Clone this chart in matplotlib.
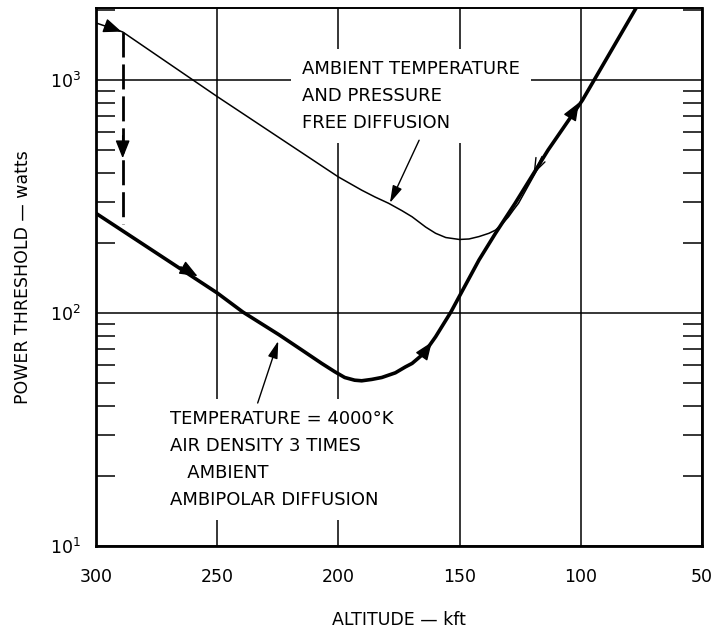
import numpy as np
import matplotlib
matplotlib.use("Agg")
import matplotlib.pyplot as plt
from matplotlib.ticker import FixedLocator, LogLocator, NullFormatter, FuncFormatter

plt.rcParams['font.family'] = ['DejaVu Sans']
plt.rcParams['lines.scale_dashes'] = False

# Ambient temperature and pressure, free diffusion: altitude (kft) vs threshold power (W)
ambient_alt = [300, 289, 250, 200, 190.4, 184.9, 179.3, 173.75, 169.6, 164.0,
               159.9, 155.7, 150.1, 146.1, 142.0, 137.9, 135.2, 132.5, 129.8,
               127.8, 125.7, 113.5, 99.3, 76.9]
ambient_power = [1760, 1610, 850, 384, 337, 315, 296, 275, 259, 234,
                 220, 211, 207, 208, 213, 220, 227, 241, 259,
                 277, 296, 501, 821, 2065]

# 4000 K, air density 3x ambient, ambipolar diffusion
hot_alt = [300, 250, 239.4, 224.5, 215.0, 206.9, 201.5, 197.4, 193.3, 190.4,
           186.25, 182.1, 176.5, 172.4, 169.6, 164.75, 159.9, 153.6, 150.1,
           142.0, 135.2, 127.1, 113.5, 99.3, 76.9]
hot_power = [268, 122, 101, 80.7, 69.3, 60.8, 56.0, 52.9, 51.5, 51.2,
             51.9, 52.9, 55.4, 58.7, 60.8, 67.1, 79.1, 101, 118,
             169, 220, 296, 501, 821, 2065]

# Vertical transition between the two curves near 290 kft
jump_alt = 289.0
jump_top = 1610
jump_bottom = 240
jump_arrow_tip = 462

# Direction arrows along the curves: (tip, tail)
hot_arrows = [((258.1, 144), (265.0, 158)),
              ((161.5, 75), (165.5, 65.5)),
              ((100.8, 800), (106.0, 648))]
ambient_arrow = ((289.5, 1615), (296.0, 1710))

alt_ticks = [300, 250, 200, 150, 100, 50]
power_decades = [10, 100, 1000]

upper_label = "AMBIENT TEMPERATURE\nAND PRESSURE\nFREE DIFFUSION"
lower_label = "TEMPERATURE = 4000°K\nAIR DENSITY 3 TIMES\n   AMBIENT\nAMBIPOLAR DIFFUSION"

fig = plt.figure(figsize=(7.16, 6.31), dpi=100)
ax = fig.add_axes([96 / 716, 1 - 546 / 631, 606 / 716, 538 / 631])
ax.set_yscale('log')
ax.set_xlim(300, 50)
ax.set_ylim(10, 2040)

ax.plot(ambient_alt, ambient_power, color='black', lw=1.1, zorder=3,
        solid_joinstyle='round')
ax.plot(hot_alt, hot_power, color='black', lw=2.6, zorder=3,
        solid_joinstyle='round', solid_capstyle='butt')

ax.plot([jump_alt, jump_alt], [jump_top, jump_bottom], color='black', lw=2.0,
        linestyle=(0, (18, 5)), zorder=3)

head = dict(arrowstyle='-|>,head_length=0.55,head_width=0.22', color='black',
            lw=1.0, shrinkA=0, shrinkB=0, mutation_scale=20)
for tip, tail in hot_arrows:
    ax.annotate('', xy=tip, xytext=tail, arrowprops=head, zorder=4)
ax.annotate('', xy=ambient_arrow[0], xytext=ambient_arrow[1], arrowprops=head, zorder=4)
ax.annotate('', xy=(jump_alt, jump_arrow_tip), xytext=(jump_alt, jump_arrow_tip * 1.25),
            arrowprops=head, zorder=4)
# small barb on the thin curve where it runs along the heavy one
ax.annotate('', xy=(119.5, 395), xytext=(116.0, 470),
            arrowprops=dict(arrowstyle='->,head_length=0.5,head_width=0.18', color='black',
                            lw=1.0, shrinkA=0, shrinkB=0, mutation_scale=20), zorder=4)

# Curve labels with white backing that breaks the grid
txt_kw = dict(fontsize=13, va='top', ha='left', linespacing=1.65, zorder=2,
              bbox=dict(facecolor='white', edgecolor='none', pad=8))
ax.text(215.0, 1220, upper_label, **txt_kw)
ax.text(269.5, 38.4, lower_label, **txt_kw)

pointer = dict(arrowstyle='-|>,head_length=0.7,head_width=0.2', color='black',
               lw=1.0, shrinkA=0, shrinkB=0, mutation_scale=15)
ax.annotate('', xy=(178.75, 297), xytext=(166.7, 552), arrowprops=pointer, zorder=4)
ax.annotate('', xy=(224.8, 75.9), xytext=(233.3, 41.1), arrowprops=pointer, zorder=4)

# Axes, ticks and grid
ax.set_xticks(alt_ticks)
ax.set_xticklabels([str(v) for v in alt_ticks])
ax.yaxis.set_major_locator(FixedLocator(power_decades))
ax.yaxis.set_major_formatter(
    FuncFormatter(lambda v, _: r'$10^{%d}$' % int(round(np.log10(v)))))
ax.yaxis.set_minor_locator(LogLocator(base=10, subs=np.arange(2, 10)))
ax.yaxis.set_minor_formatter(NullFormatter())

ax.tick_params(axis='both', which='major', length=0, labelsize=12.5)
ax.tick_params(axis='x', which='major', pad=16)
ax.tick_params(axis='y', which='major', pad=11)
ax.tick_params(axis='y', which='minor', direction='in', length=14, width=1.1,
               left=True, right=True)
ax.grid(True, which='major', color='black', lw=1.1)
ax.set_axisbelow(True)

for side, spine in ax.spines.items():
    spine.set_linewidth(1.4 if side == 'top' else 2.0)

ax.set_xlabel("ALTITUDE — kft", fontsize=12.5, labelpad=18)
ax.set_ylabel("POWER THRESHOLD — watts", fontsize=12.5, labelpad=13)

fig.savefig('out.png', dpi=100)
